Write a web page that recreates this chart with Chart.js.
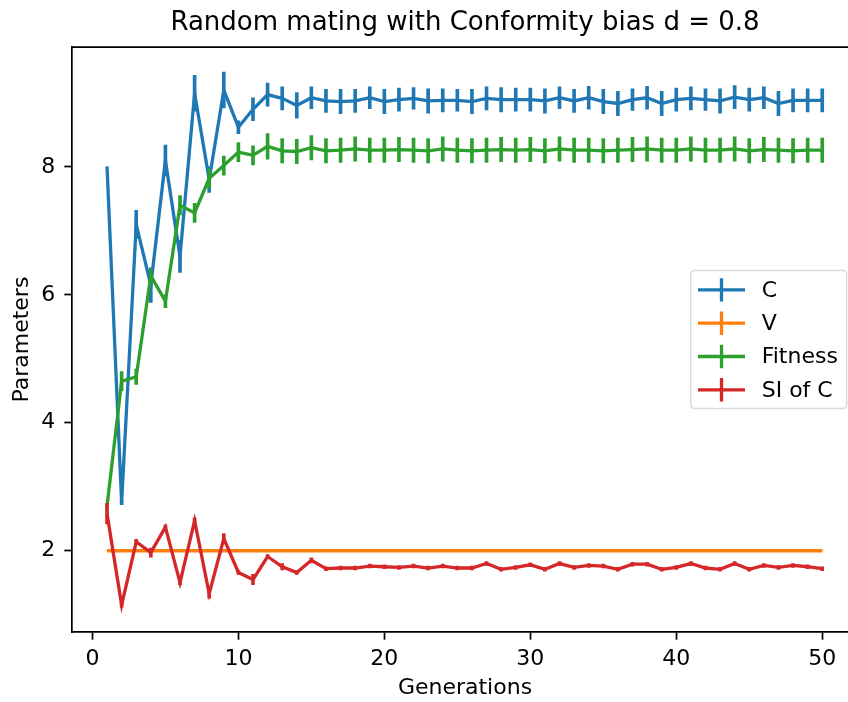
<!DOCTYPE html>
<html>
<head>
<meta charset="utf-8">
<title>Random mating with Conformity bias</title>
<script src="https://cdn.jsdelivr.net/npm/chart.js@4.4.1/dist/chart.umd.min.js"></script>
<style>
  html, body { margin: 0; padding: 0; background: #fff; overflow: hidden; }
  #wrap { width: 848px; height: 702px; overflow: hidden; position: relative; }
  #chart { position: absolute; left: 0; top: 0; }
</style>
</head>
<body>
<div id="wrap"><canvas id="chart" width="870" height="702"></canvas></div>
<script>
// ── Data ──

const generations = Array.from({ length: 50 }, (_, i) => i + 1);

const cMean = [
  8.00, 2.75, 7.10, 6.15, 8.10, 6.60, 9.15, 7.80, 9.20, 8.62,
  8.90, 9.13, 9.07, 8.96, 9.08, 9.03, 9.02, 9.03, 9.08, 9.02,
  9.05, 9.07, 9.03, 9.04, 9.04, 9.02, 9.07, 9.05, 9.05, 9.05,
  9.03, 9.08, 9.03, 9.08, 9.02, 8.99, 9.05, 9.08, 8.99, 9.05,
  9.07, 9.05, 9.03, 9.09, 9.05, 9.08, 8.99, 9.04, 9.04, 9.04
];
const cErr = [
  0.00, 0.03, 0.22, 0.27, 0.24, 0.25, 0.28, 0.20, 0.28, 0.10,
  0.18, 0.18, 0.18, 0.20, 0.17, 0.18, 0.19, 0.18, 0.17, 0.19,
  0.18, 0.17, 0.19, 0.18, 0.17, 0.19, 0.18, 0.19, 0.18, 0.18,
  0.19, 0.17, 0.18, 0.18, 0.19, 0.19, 0.17, 0.18, 0.19, 0.18,
  0.18, 0.17, 0.19, 0.18, 0.18, 0.17, 0.19, 0.18, 0.18, 0.18
];

const vMean = generations.map(() => 2.0);
const vErr = generations.map(() => 0);

const fitMean = [
  2.70, 4.65, 4.72, 6.30, 5.90, 7.40, 7.28, 7.82, 8.02, 8.23,
  8.18, 8.32, 8.25, 8.24, 8.30, 8.25, 8.26, 8.28, 8.26, 8.26,
  8.27, 8.26, 8.25, 8.28, 8.26, 8.25, 8.26, 8.27, 8.26, 8.27,
  8.25, 8.28, 8.26, 8.26, 8.25, 8.26, 8.27, 8.28, 8.26, 8.26,
  8.28, 8.26, 8.26, 8.28, 8.25, 8.27, 8.26, 8.25, 8.26, 8.26
];
const fitErr = [
  0.00, 0.15, 0.12, 0.10, 0.10, 0.15, 0.15, 0.15, 0.15, 0.15,
  0.15, 0.20, 0.19, 0.19, 0.19, 0.19, 0.19, 0.19, 0.19, 0.19,
  0.19, 0.19, 0.19, 0.19, 0.19, 0.19, 0.19, 0.19, 0.19, 0.19,
  0.19, 0.19, 0.19, 0.19, 0.19, 0.19, 0.19, 0.19, 0.19, 0.19,
  0.19, 0.19, 0.19, 0.19, 0.19, 0.19, 0.19, 0.19, 0.19, 0.19
];

const siMean = [
  2.58, 1.15, 2.14, 1.97, 2.37, 1.50, 2.47, 1.33, 2.19, 1.66,
  1.55, 1.91, 1.75, 1.66, 1.85, 1.72, 1.73, 1.73, 1.76, 1.75,
  1.74, 1.76, 1.73, 1.76, 1.73, 1.73, 1.80, 1.71, 1.74, 1.78,
  1.71, 1.80, 1.74, 1.77, 1.76, 1.71, 1.79, 1.79, 1.71, 1.74,
  1.80, 1.73, 1.71, 1.80, 1.71, 1.77, 1.74, 1.77, 1.75, 1.72
];
const siErr = [
  0.16, 0.03, 0.04, 0.07, 0.03, 0.03, 0.04, 0.07, 0.08, 0.03,
  0.08, 0.03, 0.05, 0.03, 0.04, 0.03, 0.03, 0.03, 0.03, 0.03,
  0.03, 0.03, 0.03, 0.03, 0.03, 0.03, 0.03, 0.03, 0.03, 0.03,
  0.03, 0.03, 0.03, 0.03, 0.03, 0.03, 0.03, 0.03, 0.03, 0.03,
  0.03, 0.03, 0.03, 0.03, 0.03, 0.03, 0.03, 0.03, 0.03, 0.03
];

const xTicks = [0, 10, 20, 30, 40, 50];
const yTicks = [2, 4, 6, 8];

const series = [
  { label: 'C',        mean: cMean,   err: cErr,   color: '#1f77b4' },
  { label: 'V',        mean: vMean,   err: vErr,   color: '#ff7f0e' },
  { label: 'Fitness',  mean: fitMean, err: fitErr, color: '#2ca02c' },
  { label: 'SI of C',  mean: siMean,  err: siErr,  color: '#d62728' },
];

// ── Datasets: a line plus floating bars for the error range ──

const FONT = "'DejaVu Sans', sans-serif";
const LW = 3.3;

const datasets = [];
series.forEach((s, k) => {
  const base = (series.length - k) * 2;
  datasets.push({
    type: 'line',
    label: s.label,
    data: generations.map((g, i) => ({ x: g, y: s.mean[i] })),
    borderColor: s.color,
    backgroundColor: s.color,
    borderWidth: LW,
    pointRadius: 0,
    tension: 0,
    order: base - 1,
  });
  datasets.push({
    type: 'bar',
    label: s.label + ' err',
    data: generations.map((g, i) => ({ x: g, y: [s.mean[i] - s.err[i], s.mean[i] + s.err[i]] })),
    backgroundColor: s.color,
    borderWidth: 0,
    barThickness: 3,
    grouped: false,
    order: base,
  });
});

// ── Plugins ──

// top/right spines
const framePlugin = {
  id: 'frame',
  afterDraw(chart) {
    const { ctx, chartArea: a } = chart;
    ctx.save();
    ctx.strokeStyle = '#000';
    ctx.lineWidth = 1.7;
    ctx.beginPath();
    ctx.moveTo(a.left, a.top);
    ctx.lineTo(a.right, a.top);
    ctx.lineTo(a.right, a.bottom);
    ctx.stroke();
    ctx.restore();
  }
};

// errorbar-style legend, centre right inside the axes
const legendPlugin = {
  id: 'ebLegend',
  afterDraw(chart) {
    const { ctx, chartArea: a } = chart;
    const w = 156, h = 138, rowH = 33.3;
    const right = a.right - 11.3;
    const left = right - w;
    const top = (a.top + a.bottom) / 2 - h / 2;
    ctx.save();
    ctx.fillStyle = 'rgba(255,255,255,0.8)';
    ctx.strokeStyle = '#dadada';
    ctx.lineWidth = 1.5;
    ctx.beginPath();
    ctx.roundRect(left, top, w, h, 4);
    ctx.fill();
    ctx.stroke();
    ctx.font = '22px ' + FONT;
    ctx.textBaseline = 'middle';
    ctx.textAlign = 'left';
    series.forEach((s, i) => {
      const y = top + 19.3 + i * rowH;
      const x0 = left + 7.3, x1 = left + 54.3, xm = (x0 + x1) / 2;
      ctx.strokeStyle = s.color;
      ctx.lineWidth = LW;
      ctx.beginPath();
      ctx.moveTo(x0, y);
      ctx.lineTo(x1, y);
      ctx.moveTo(xm, y - 11.7);
      ctx.lineTo(xm, y + 11.7);
      ctx.stroke();
      ctx.fillStyle = '#000';
      ctx.fillText(s.label, left + 71, y + 1);
    });
    ctx.restore();
  }
};

// ── Chart ──

const axisCommon = {
  grid: {
    display: true, offset: false, drawOnChartArea: false, drawTicks: true,
    tickLength: 7.7, tickColor: '#000', tickWidth: 1.7,
  },
  border: { display: true, color: '#000', width: 1.7 },
};

new Chart(document.getElementById('chart'), {
  type: 'line',
  data: { datasets },
  options: {
    responsive: false,
    animation: false,
    layout: { padding: { left: 0, right: 12, top: 0, bottom: 0 } },
    plugins: {
      legend: { display: false },
      tooltip: { enabled: false },
      title: {
        display: true,
        text: 'Random mating with Conformity bias d = 0.8',
        fullSize: false,
        color: '#000',
        font: { family: FONT, size: 26, weight: 'normal' },
        padding: { top: 8, bottom: 8 },
      },
    },
    scales: {
      x: {
        ...axisCommon,
        type: 'linear',
        offset: false,
        min: -1.4,
        max: 52.45,
        afterBuildTicks: sc => { sc.ticks = xTicks.map(v => ({ value: v })); },
        afterFit: sc => { sc.height = 70; },
        ticks: { color: '#000', padding: 6, maxRotation: 0, autoSkip: false, font: { family: FONT, size: 22 } },
        title: {
          display: true, text: 'Generations', color: '#000',
          font: { family: FONT, size: 22 }, padding: { top: 0, bottom: 1 },
        },
      },
      y: {
        ...axisCommon,
        type: 'linear',
        min: 0.73,
        max: 9.87,
        afterBuildTicks: sc => { sc.ticks = yTicks.map(v => ({ value: v })); },
        afterFit: sc => { sc.width = 72; },
        ticks: { color: '#000', padding: 9, font: { family: FONT, size: 22 } },
        title: {
          display: true, text: 'Parameters', color: '#000',
          font: { family: FONT, size: 22 }, padding: { top: 9, bottom: 0 },
        },
      },
    },
  },
  plugins: [framePlugin, legendPlugin],
});
</script>
</body>
</html>
